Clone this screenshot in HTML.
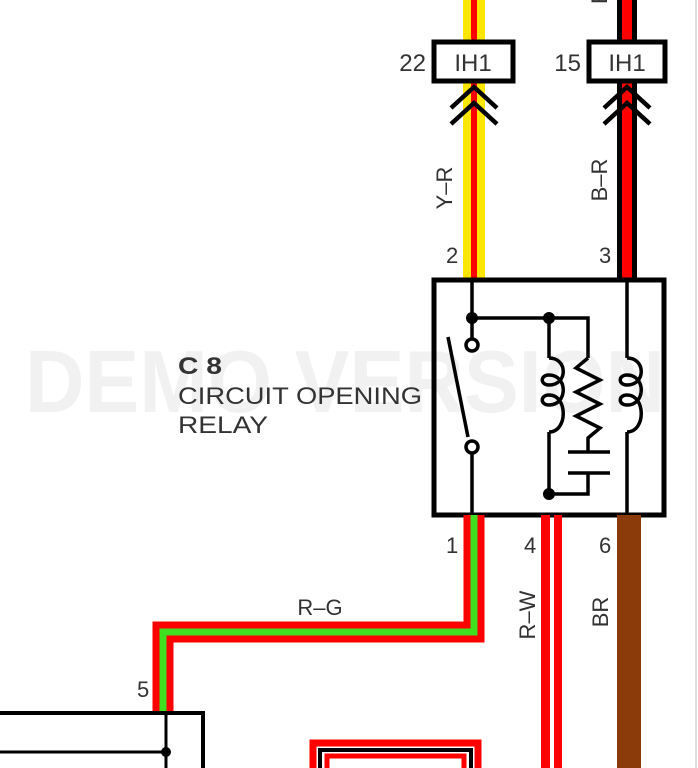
<!DOCTYPE html>
<html><head><meta charset="utf-8"><style>
html,body{margin:0;padding:0;background:#fff;}
svg{display:block;font-family:"Liberation Sans",sans-serif;}
</style></head><body>
<svg width="698" height="768" viewBox="0 0 698 768" xmlns="http://www.w3.org/2000/svg">
<rect width="698" height="768" fill="#fff"/>
<line x1="696" y1="0" x2="696" y2="768" stroke="#ddd" stroke-width="2"/>
<text x="345" y="412" font-size="88" font-weight="bold" fill="#f1f1f1" text-anchor="middle" textLength="640" lengthAdjust="spacingAndGlyphs">DEMO VERSION</text>

<!-- top wires -->
<rect x="463" y="0" width="22" height="280" fill="#ffe600"/>
<rect x="471" y="0" width="6" height="280" fill="#f00"/>
<rect x="617" y="0" width="20" height="280" fill="#000"/>
<rect x="622" y="0" width="10" height="280" fill="#f00"/>

<!-- connectors -->
<rect x="434" y="42" width="79" height="39" fill="#fff" stroke="#000" stroke-width="5"/>
<rect x="589" y="42" width="76" height="39" fill="#fff" stroke="#000" stroke-width="5"/>
<text x="473" y="71" font-size="24" fill="#333" text-anchor="middle">IH1</text>
<text x="627" y="71" font-size="24" fill="#333" text-anchor="middle">IH1</text>
<text x="426" y="71" font-size="24" fill="#333" text-anchor="end">22</text>
<text x="581" y="71" font-size="24" fill="#333" text-anchor="end">15</text>
<g fill="none" stroke="#000" stroke-width="4.5">
<polyline points="451,108 474,87 497,108"/>
<polyline points="451,124 474,103 497,124"/>
<polyline points="604,108 627,87 650,108"/>
<polyline points="604,124 627,103 650,124"/>
</g>
<text transform="translate(452,188) rotate(-90)" font-size="22" fill="#333" text-anchor="middle">Y–R</text>
<text transform="translate(607,180) rotate(-90)" font-size="22" fill="#333" text-anchor="middle">B–R</text>
<text x="446" y="263" font-size="22" fill="#333">2</text>
<text x="599" y="263" font-size="22" fill="#333">3</text>
<text transform="translate(607,4) rotate(-90)" font-size="22" fill="#333">B</text>

<!-- relay box -->
<rect x="434" y="280" width="230" height="235" fill="none" stroke="#000" stroke-width="5"/>
<g fill="none" stroke="#000" stroke-width="3.5">
<line x1="472" y1="280" x2="472" y2="338"/>
<circle cx="472" cy="345" r="6" fill="#fff"/>
<line x1="448" y1="337" x2="468" y2="437"/>
<circle cx="472" cy="447" r="6" fill="#fff"/>
<line x1="472" y1="453" x2="472" y2="515"/>
<polyline points="472,318 588,318 588,358"/>
<line x1="549" y1="318" x2="549" y2="358"/>
<path d="M549,358 C568,358 568,385 549,385 C540,385 540,375 549,375 C568,375 568,405 549,405 C540,405 540,395 549,395 C568,395 568,432 549,432"/>
<line x1="549" y1="432" x2="549" y2="494"/>
<polyline points="588,358 576,368 600,380 576,392 600,404 576,416 600,428 588,438 588,452"/>
<line x1="568" y1="452" x2="610" y2="452"/>
<line x1="568" y1="473" x2="610" y2="473"/>
<polyline points="588,473 588,494 549,494"/>
<line x1="627" y1="280" x2="627" y2="358"/>
<path d="M627,358 C646,358 646,385 627,385 C618,385 618,375 627,375 C646,375 646,405 627,405 C618,405 618,395 627,395 C646,395 646,432 627,432"/>
<line x1="627" y1="432" x2="627" y2="515"/>
</g>
<circle cx="472" cy="318" r="6"/>
<circle cx="549" cy="318" r="6"/>
<circle cx="549" cy="494" r="6"/>

<text x="178" y="374" font-size="24" font-weight="bold" fill="#333" textLength="44" lengthAdjust="spacingAndGlyphs">C 8</text>
<text x="178" y="404" font-size="24" fill="#333" textLength="244" lengthAdjust="spacingAndGlyphs">CIRCUIT OPENING</text>
<text x="178" y="433" font-size="24" fill="#333" textLength="90" lengthAdjust="spacingAndGlyphs">RELAY</text>

<!-- bottom wires -->
<path d="M474,515 V632 H163 V712" fill="none" stroke="#f00" stroke-width="21"/>
<path d="M474,515 V632 H163 V712" fill="none" stroke="#40e020" stroke-width="7"/>
<rect x="541" y="515" width="9" height="253" fill="#f00"/>
<rect x="554" y="515" width="8" height="253" fill="#f00"/>
<rect x="617" y="515" width="24" height="253" fill="#8b3a0a"/>
<text x="446" y="553" font-size="22" fill="#333">1</text>
<text x="524" y="553" font-size="22" fill="#333">4</text>
<text x="599" y="553" font-size="22" fill="#333">6</text>
<text x="320" y="615" font-size="22" fill="#333" text-anchor="middle">R–G</text>
<text transform="translate(535,615) rotate(-90)" font-size="22" fill="#333" text-anchor="middle">R–W</text>
<text transform="translate(608,612) rotate(-90)" font-size="22" fill="#333" text-anchor="middle">BR</text>
<text x="137" y="697" font-size="22" fill="#333">5</text>

<!-- bottom left box -->
<polyline points="0,713 203,713 203,768" fill="none" stroke="#000" stroke-width="4"/>
<line x1="166" y1="713" x2="166" y2="768" stroke="#000" stroke-width="3"/>
<line x1="0" y1="752" x2="166" y2="752" stroke="#000" stroke-width="3"/>
<circle cx="166" cy="752" r="5"/>

<!-- bottom rect -->
<path d="M313,768 V743 H478 V768" fill="none" stroke="#f00" stroke-width="7"/>
<path d="M320,768 V750 H471 V768" fill="none" stroke="#000" stroke-width="4"/>
<path d="M327,768 V756 H464 V768" fill="none" stroke="#f00" stroke-width="5"/>
</svg>
</body></html>
